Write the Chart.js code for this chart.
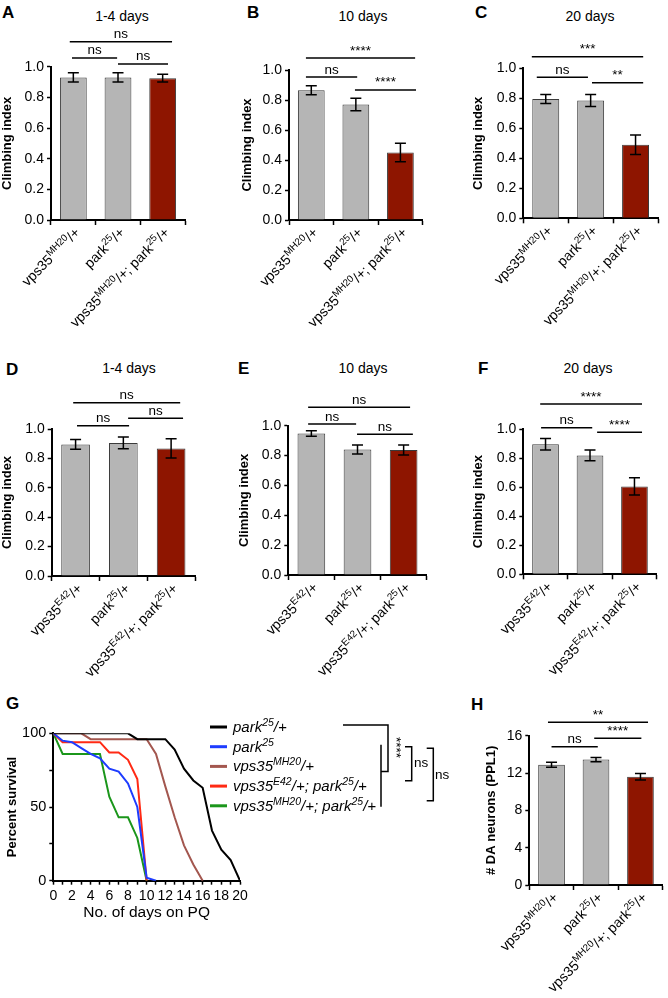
<!DOCTYPE html>
<html>
<head>
<meta charset="utf-8">
<script src="https://cdn.jsdelivr.net/npm/chart.js@4.4.1/dist/chart.umd.min.js"></script>
<style>
  html, body { margin: 0; padding: 0; background: #fff; }
  #fig { position: relative; width: 668px; height: 998px; overflow: hidden; font-family: "Liberation Sans", Arial, sans-serif; color: #000; }
  #fig canvas { position: absolute; }
  .letter { position: absolute; font-size: 17px; font-weight: bold; line-height: 17px; }
  .ptitle { position: absolute; font-size: 14px; line-height: 14px; white-space: nowrap; transform: translateX(-50%); }
</style>
</head>
<body>
<div id="fig">
  <div class="letter" style="left:2px;top:4px">A</div>
  <div class="letter" style="left:247px;top:4px">B</div>
  <div class="letter" style="left:475px;top:4px">C</div>
  <div class="letter" style="left:6px;top:361px">D</div>
  <div class="letter" style="left:238px;top:360px">E</div>
  <div class="letter" style="left:478px;top:360px">F</div>
  <div class="letter" style="left:6px;top:695px">G</div>
  <div class="letter" style="left:471px;top:696px">H</div>
  <div class="ptitle" style="left:122px;top:9px">1-4 days</div>
  <div class="ptitle" style="left:363px;top:9px">10 days</div>
  <div class="ptitle" style="left:590px;top:9px">20 days</div>
  <div class="ptitle" style="left:129px;top:361px">1-4 days</div>
  <div class="ptitle" style="left:363px;top:361px">10 days</div>
  <div class="ptitle" style="left:588px;top:361px">20 days</div>
</div>
<script>
// genotypes (^{...} = superscript)
const groupsMH20 = ['vps35^{MH20}/+', 'park^{25}/+', 'vps35^{MH20}/+; park^{25}/+'];
const groupsE42 = ['vps35^{E42}/+', 'park^{25}/+', 'vps35^{E42}/+; park^{25}/+'];

// climbing index, mean and error
const climbA = [0.93, 0.93, 0.925];
const climbAErr = [0.03, 0.03, 0.025];
const climbB = [0.865, 0.77, 0.45];
const climbBErr = [0.03, 0.042, 0.061];
const climbC = [0.795, 0.785, 0.49];
const climbCErr = [0.03, 0.04, 0.065];
const climbD = [0.895, 0.905, 0.868];
const climbDErr = [0.033, 0.04, 0.066];
const climbE = [0.948, 0.84, 0.837];
const climbEErr = [0.018, 0.03, 0.033];
const climbF = [0.895, 0.818, 0.605];
const climbFErr = [0.04, 0.037, 0.06];

// DA neurons
const neuronsH = [12.88, 13.44, 11.6];
const neuronsHErr = [0.27, 0.22, 0.35];

const climbTicks = [0, 0.2, 0.4, 0.6, 0.8, 1.0];
const neuronTicks = [0, 4, 8, 12, 16];

// significance labels: [all, 1 vs 2, 2 vs 3]
const sigA = ['ns', 'ns', 'ns'];
const sigB = ['****', 'ns', '****'];
const sigC = ['***', 'ns', '**'];
const sigD = ['ns', 'ns', 'ns'];
const sigE = ['ns', 'ns', 'ns'];
const sigF = ['****', 'ns', '****'];
const sigH = ['**', 'ns', '****'];

// survival on PQ (percent)
const survivalDays = [0, 1, 2, 3, 4, 5, 6, 7, 8, 9, 10, 11, 12, 13, 14, 15, 16, 17, 18, 19, 20];
const dayTickLabels = [0, 2, 4, 6, 8, 10, 12, 14, 16, 18, 20];
const survPark25Het = [100, 100, 100, 100, 100, 100, 100, 100, 100, 96, 96, 96, 96, 89, 76, 68, 63, 34, 21, 14, 0];
const survPark25 = [100, 95, 94, 90, 86, 83, 76, 74, 66, 50, 2, 0];
const survMH20 = [100, 100, 100, 100, 96, 96, 96, 96, 96, 96, 96, 86, 64, 43, 24, 11, 0];
const survE42Park = [100, 94, 94, 94, 94, 94, 87, 87, 82, 69, 0];
const survMH20Park = [100, 86, 86, 86, 86, 86, 57, 43, 43, 29, 0];
const survivalNames = ['park^{25}/+', 'park^{25}', 'vps35^{MH20}/+', 'vps35^{E42}/+; park^{25}/+', 'vps35^{MH20}/+; park^{25}/+'];
const survivalTicks = [0, 25, 50, 75, 100];
const survivalTickLabels = [0, 50, 100];
const sigG = ['****', 'ns', 'ns'];

const FONT = '"Liberation Sans", Arial, Helvetica, sans-serif';
Chart.defaults.font.family = FONT;
Chart.defaults.color = '#000';

const fig = document.getElementById('fig');
const barColors = ['#b5b5b5', '#b5b5b5', '#8e1500'];
const survColors = ['#000000', '#1e3cff', '#a3574f', '#ff2a14', '#1b961b'];

function parseRich(s) {
  const parts = [];
  const re = /\^\{([^}]*)\}/g;
  let last = 0, m;
  while ((m = re.exec(s))) {
    if (m.index > last) parts.push({ t: s.slice(last, m.index), sup: false });
    parts.push({ t: m[1], sup: true });
    last = re.lastIndex;
  }
  if (last < s.length) parts.push({ t: s.slice(last), sup: false });
  return parts;
}

function drawRich(ctx, str, x, y, size, align, style) {
  const parts = parseRich(str);
  const fontFor = p => (style || '') + ' ' + (p.sup ? size * 0.7 : size) + 'px ' + FONT;
  let total = 0;
  parts.forEach(p => { ctx.font = fontFor(p); p.w = ctx.measureText(p.t).width; total += p.w; });
  let cx = align === 'right' ? x - total : align === 'center' ? x - total / 2 : x;
  ctx.textAlign = 'left';
  ctx.textBaseline = 'alphabetic';
  parts.forEach(p => {
    ctx.font = fontFor(p);
    ctx.fillText(p.t, cx, p.sup ? y - size * 0.4 : y);
    cx += p.w;
  });
}

// error bars, significance lines and rotated genotype labels
const barExtras = {
  id: 'barExtras',
  afterDatasetsDraw(chart, args, opts) {
    const ctx = chart.ctx, xs = chart.scales.x, ys = chart.scales.y;
    const vals = chart.data.datasets[0].data;
    ctx.save();
    ctx.strokeStyle = '#000';
    ctx.lineWidth = 1.5;
    chart.getDatasetMeta(0).data.forEach((bar, i) => {
      const yt = ys.getPixelForValue(vals[i] + opts.errors[i]);
      const yb = ys.getPixelForValue(vals[i] - opts.errors[i]);
      ctx.beginPath();
      ctx.moveTo(bar.x, yt); ctx.lineTo(bar.x, yb);
      ctx.moveTo(bar.x - 5.5, yt); ctx.lineTo(bar.x + 5.5, yt);
      ctx.moveTo(bar.x - 5.5, yb); ctx.lineTo(bar.x + 5.5, yb);
      ctx.stroke();
    });
    opts.brackets.forEach((b, i) => {
      const x1 = xs.getPixelForValue(b[0]), x2 = xs.getPixelForValue(b[1]);
      const y = ys.getPixelForValue(b[2]);
      ctx.beginPath();
      ctx.moveTo(x1, y); ctx.lineTo(x2, y);
      ctx.stroke();
      ctx.fillStyle = '#000';
      ctx.font = '13.5px ' + FONT;
      ctx.textAlign = 'center';
      ctx.textBaseline = 'alphabetic';
      ctx.fillText(opts.sig[i], (x1 + x2) / 2, y - 3.5);
    });
    ctx.restore();
  },
  afterDraw(chart) {
    const ctx = chart.ctx, xs = chart.scales.x;
    const bottom = chart.chartArea.bottom;
    ctx.save();
    ctx.fillStyle = '#000';
    chart.data.labels.forEach((lab, i) => {
      ctx.save();
      ctx.translate(xs.getPixelForValue(i) + 4, bottom + 10);
      ctx.rotate(-Math.PI / 4);
      drawRich(ctx, lab, 0, 5, 14, 'right', '');
      ctx.restore();
    });
    ctx.restore();
  }
};

function makeCanvas(box) {
  const c = document.createElement('canvas');
  c.width = box.w; c.height = box.h;
  c.style.left = box.left + 'px';
  c.style.top = box.top + 'px';
  fig.appendChild(c);
  return c;
}

function makeBarChart(p) {
  const c = makeCanvas(p.box);
  const W = p.area.L - p.box.left, HX = 10;
  const maxTick = p.ticks[p.ticks.length - 1];
  new Chart(c, {
    type: 'bar',
    data: {
      labels: p.labels,
      datasets: [{
        data: p.values,
        backgroundColor: barColors,
        borderColor: '#3a3a3a',
        borderWidth: 1,
        barPercentage: 0.6,
        categoryPercentage: 1
      }]
    },
    options: {
      responsive: false,
      animation: false,
      devicePixelRatio: 1,
      events: [],
      layout: {
        padding: {
          left: 0,
          top: p.area.T - p.box.top,
          right: p.box.left + p.box.w - p.area.R,
          bottom: p.box.top + p.box.h - p.area.B - HX
        }
      },
      plugins: {
        legend: { display: false },
        tooltip: { enabled: false },
        barExtras: { errors: p.errors, sig: p.sig, brackets: p.brackets }
      },
      scales: {
        x: {
          grid: { display: true, drawOnChartArea: false, drawTicks: true, tickLength: 5, tickColor: '#000', tickWidth: 1.5, offset: true },
          border: { color: '#000', width: 2 },
          ticks: { display: false },
          afterFit: s => { s.height = HX; }
        },
        y: {
          min: 0,
          max: maxTick,
          afterBuildTicks: s => { s.ticks = p.ticks.map(v => ({ value: v })); },
          ticks: { font: { size: 14 }, padding: 3, callback: v => p.decimals ? v.toFixed(1) : String(v) },
          grid: { drawOnChartArea: false, tickLength: 4, tickColor: '#000', tickWidth: 1.5 },
          border: { color: '#000', width: 2 },
          title: { display: true, text: p.yTitle, font: { size: 13, weight: 'bold' }, padding: 0 },
          afterFit: s => { s.width = W; }
        }
      }
    },
    plugins: [barExtras]
  });
}

const panels = [
  { box: { left: 0, top: 0, w: 222, h: 340 }, area: { L: 51, T: 66.7, R: 185, B: 220 },
    labels: groupsMH20, values: climbA, errors: climbAErr, ticks: climbTicks, decimals: true, yTitle: 'Climbing index',
    sig: sigA, brackets: [[-0.08, 2.21, 1.163], [-0.03, 0.98, 1.057], [1.0, 2.12, 1.018]] },
  { box: { left: 240, top: 0, w: 215, h: 340 }, area: { L: 289, T: 70, R: 422.7, B: 220 },
    labels: groupsMH20, values: climbB, errors: climbBErr, ticks: climbTicks, decimals: true, yTitle: 'Climbing index',
    sig: sigB, brackets: [[-0.12, 2.33, 1.08], [-0.12, 1.03, 0.953], [0.98, 2.35, 0.867]] },
  { box: { left: 471, top: 0, w: 197, h: 340 }, area: { L: 523.3, T: 68.3, R: 658, B: 218.3 },
    labels: groupsMH20, values: climbC, errors: climbCErr, ticks: climbTicks, decimals: true, yTitle: 'Climbing index',
    sig: sigC, brackets: [[-0.31, 2.17, 1.077], [-0.2, 0.94, 0.94], [1.03, 2.17, 0.904]] },
  { box: { left: 0, top: 340, w: 222, h: 350 }, area: { L: 51.7, T: 429, R: 195, B: 576 },
    labels: groupsE42, values: climbD, errors: climbDErr, ticks: climbTicks, decimals: true, yTitle: 'Climbing index',
    sig: sigD, brackets: [[-0.05, 2.19, 1.179], [0.03, 1.12, 1.022], [1.1, 2.25, 1.073]] },
  { box: { left: 237, top: 340, w: 215, h: 350 }, area: { L: 288.3, T: 425.7, R: 426.7, B: 575 },
    labels: groupsE42, values: climbE, errors: climbEErr, ticks: climbTicks, decimals: true, yTitle: 'Climbing index',
    sig: sigE, brackets: [[-0.07, 2.14, 1.123], [-0.07, 0.97, 1.011], [0.99, 2.2, 0.942]] },
  { box: { left: 471, top: 340, w: 197, h: 350 }, area: { L: 523.3, T: 429, R: 656.7, B: 574.3 },
    labels: groupsE42, values: climbF, errors: climbFErr, ticks: climbTicks, decimals: true, yTitle: 'Climbing index',
    sig: sigF, brackets: [[-0.12, 2.17, 1.172], [-0.1, 1.05, 1.009], [1.16, 2.17, 0.977]] },
  { box: { left: 484, top: 690, w: 184, h: 308 }, area: { L: 529.3, T: 735.7, R: 662.7, B: 885 },
    labels: groupsMH20, values: neuronsH, errors: neuronsHErr, ticks: neuronTicks, decimals: false, yTitle: '# DA neurons (PPL1)',
    sig: sigH, brackets: [[-0.08, 2.17, 17.44], [0.0, 1.04, 14.82], [0.96, 2.02, 15.72]] }
];
panels.forEach(makeBarChart);

// survival legend and log-rank brackets
const survivalExtras = {
  id: 'survivalExtras',
  afterDraw(chart, args, opts) {
    const ctx = chart.ctx, ox = opts.box.left, oy = opts.box.top;
    const rowY = i => 727 + 19.7 * i - oy;
    ctx.save();
    survivalNames.forEach((name, i) => {
      ctx.strokeStyle = survColors[i];
      ctx.lineWidth = 3;
      ctx.beginPath();
      ctx.moveTo(210 - ox, rowY(i)); ctx.lineTo(227 - ox, rowY(i));
      ctx.stroke();
      ctx.fillStyle = '#000';
      drawRich(ctx, name, 233 - ox, rowY(i) + 5, 15, 'left', 'italic');
    });
    ctx.strokeStyle = '#000';
    ctx.lineWidth = 1.5;
    ctx.beginPath();
    ctx.moveTo(343 - ox, rowY(0) - 2); ctx.lineTo(388 - ox, rowY(0) - 2);
    ctx.lineTo(388 - ox, 771.5 - oy); ctx.lineTo(381 - ox, 771.5 - oy);
    ctx.moveTo(381 - ox, rowY(1) - 2); ctx.lineTo(381 - ox, rowY(4) + 1);
    ctx.moveTo(405 - ox, 746.7 - oy); ctx.lineTo(411.7 - ox, 746.7 - oy);
    ctx.lineTo(411.7 - ox, 780.7 - oy); ctx.lineTo(405 - ox, 780.7 - oy);
    ctx.moveTo(426.7 - ox, 748.3 - oy); ctx.lineTo(433.3 - ox, 748.3 - oy);
    ctx.lineTo(433.3 - ox, 800.7 - oy); ctx.lineTo(426.7 - ox, 800.7 - oy);
    ctx.stroke();
    ctx.fillStyle = '#000';
    ctx.font = '13.5px ' + FONT;
    ctx.textBaseline = 'middle';
    ctx.save();
    ctx.translate(396 - ox, 747.5 - oy);
    ctx.rotate(Math.PI / 2);
    ctx.textAlign = 'center';
    ctx.fillText(sigG[0], 0, 0);
    ctx.restore();
    ctx.textAlign = 'left';
    ctx.fillText(sigG[1], 414 - ox, 763 - oy);
    ctx.fillText(sigG[2], 435 - ox, 775 - oy);
    ctx.restore();
  }
};

const gBox = { left: 5, top: 690, w: 455, h: 308 };
const gArea = { L: 53.3, T: 733.3, R: 240, B: 880.7 };
const gHX = 41.5;
const survivalSeries = [survPark25Het, survPark25, survMH20, survE42Park, survMH20Park];
new Chart(makeCanvas(gBox), {
  type: 'line',
  data: {
    datasets: survivalSeries.map((s, k) => ({
      data: s.map((v, i) => ({ x: survivalDays[i], y: v })),
      borderColor: survColors[k],
      borderWidth: 2,
      pointRadius: 0,
      tension: 0,
      fill: false
    }))
  },
  options: {
    responsive: false,
    animation: false,
    devicePixelRatio: 1,
    events: [],
    layout: {
      padding: {
        left: 0,
        top: gArea.T - gBox.top,
        right: gBox.left + gBox.w - gArea.R,
        bottom: gBox.top + gBox.h - gArea.B - gHX
      }
    },
    plugins: {
      legend: { display: false },
      tooltip: { enabled: false },
      survivalExtras: { box: gBox }
    },
    scales: {
      x: {
        type: 'linear',
        min: 0,
        max: 20,
        afterBuildTicks: s => { s.ticks = survivalDays.map(v => ({ value: v })); },
        ticks: { autoSkip: false, maxRotation: 0, font: { size: 14 }, padding: 3,
                 callback: v => dayTickLabels.includes(v) ? String(v) : '' },
        grid: { drawOnChartArea: false, tickLength: 4, tickColor: '#000', tickWidth: 1.5 },
        border: { color: '#000', width: 2 },
        title: { display: true, text: 'No. of days on PQ', font: { size: 15.5 }, padding: 0 },
        afterFit: s => { s.height = gHX; }
      },
      y: {
        min: 0,
        max: 100,
        afterBuildTicks: s => { s.ticks = survivalTicks.map(v => ({ value: v })); },
        ticks: { font: { size: 14.5 }, padding: 3,
                 callback: v => survivalTickLabels.includes(v) ? String(v) : '' },
        grid: { drawOnChartArea: false, tickLength: 4, tickColor: '#000', tickWidth: 1.5 },
        border: { color: '#000', width: 2 },
        title: { display: true, text: 'Percent survival', font: { size: 13, weight: 'bold' }, padding: 0 },
        afterFit: s => { s.width = gArea.L - gBox.left; }
      }
    }
  },
  plugins: [survivalExtras]
});
</script>
</body>
</html>
